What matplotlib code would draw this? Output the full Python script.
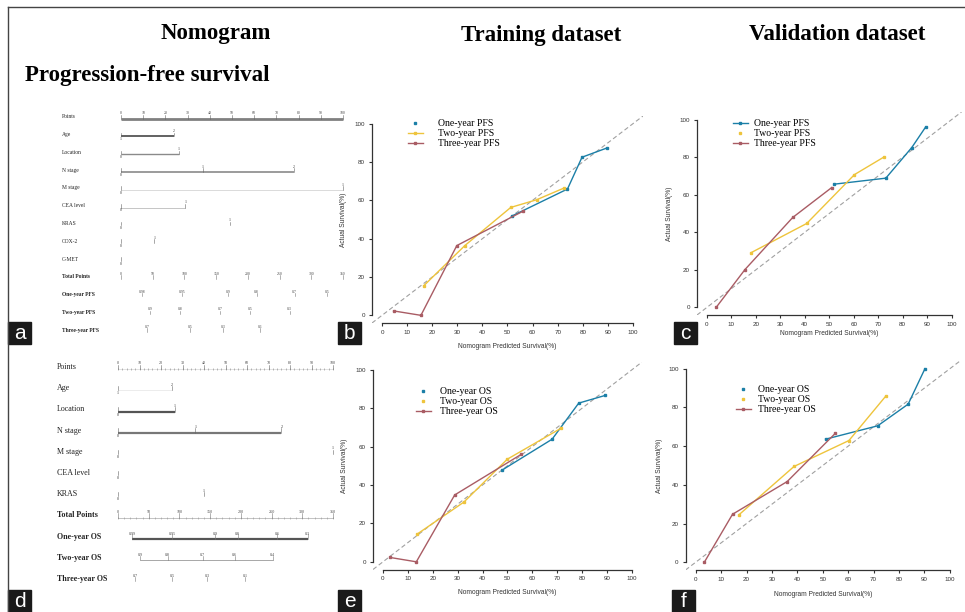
import numpy as np
import matplotlib
matplotlib.use("Agg")
from matplotlib import pyplot as plt
from matplotlib.lines import Line2D
from matplotlib.patches import Rectangle

# ---- data ----
col_titles = ["Nomogram", "Training dataset", "Validation dataset"]
row_title = "Progression-free survival"
panel_letters = ["a", "b", "c", "d", "e", "f"]

# nomogram, PFS (points scale 0-100)
pfs_vars = ["Age", "Location", "N stage", "M stage", "CEA level", "KRAS", "COX-2", "C-MET"]
pfs_var_pts = [[0, 24], [0, 26], [0, 37, 78], [0, 100], [0, 29], [0, 49], [0, 15], [0]]
pfs_var_lvls = [["1", "2"], ["0", "1"], ["0", "1", "2"], ["0", "1"], ["0", "1"],
                ["0", "1"], ["0", "1"], ["0"]]
pfs_surv_rows = ["One-year PFS", "Two-year PFS", "Three-year PFS"]
pfs_surv_tot = [[33, 96, 169, 214, 274, 325], [46, 93, 156, 203, 266], [41, 109, 161, 219]]
pfs_surv_lbl = [["0.98", "0.95", "0.9", "0.8", "0.7", "0.5"],
                ["0.9", "0.8", "0.7", "0.5", "0.3"],
                ["0.7", "0.5", "0.3", "0.1"]]

# nomogram, OS
os_vars = ["Age", "Location", "N stage", "M stage", "CEA level", "KRAS"]
os_var_pts = [[0, 25], [0, 26.5], [0, 36, 76], [0, 100], [0], [0, 40]]
os_var_lvls = [["1", "2"], ["0", "1"], ["0", "1", "2"], ["0", "1"], ["0"], ["0", "1"]]
os_surv_rows = ["One-year OS", "Two-year OS", "Three-year OS"]
os_surv_tot = [[23, 88, 158, 195, 259, 309], [36, 81, 138, 190, 252], [28, 88, 145, 207]]
os_surv_lbl = [["0.99", "0.95", "0.9", "0.8", "0.6", "0.3"],
               ["0.9", "0.8", "0.7", "0.6", "0.4"],
               ["0.7", "0.5", "0.3", "0.1"]]

points_ticks = list(range(0, 101, 10))
total_ticks = list(range(0, 351, 50))
total_max = 350

# calibration curves (predicted %, actual %)
train_pfs = {
    "One-year PFS": ([51.9, 73.9, 79.7, 89.8], [51.9, 65.9, 82.5, 87.4]),
    "Two-year PFS": ([16.6, 33.0, 51.3, 61.6, 72.5], [15.4, 36.4, 56.3, 60.3, 66.4]),
    "Three-year PFS": ([4.6, 15.5, 29.8, 56.0], [2.3, 0.0, 36.4, 54.2]),
}
valid_pfs = {
    "One-year PFS": ([52.0, 73.1, 83.7, 89.4], [65.6, 68.8, 85.1, 96.1]),
    "Two-year PFS": ([18.0, 40.8, 60.3, 72.4], [29.1, 44.7, 70.7, 80.1]),
    "Three-year PFS": ([3.8, 15.6, 35.1, 51.0], [0.0, 20.2, 47.9, 63.8]),
}
train_os = {
    "One-year OS": ([47.9, 67.9, 78.6, 89.2], [47.8, 63.8, 82.6, 86.6]),
    "Two-year OS": ([13.7, 32.5, 49.9, 71.6], [14.4, 31.1, 53.4, 69.6]),
    "Three-year OS": ([2.7, 13.4, 28.8, 55.6], [2.3, 0.0, 34.8, 56.0]),
}
valid_os = {
    "One-year OS": ([51.1, 71.6, 83.6, 90.2], [63.6, 70.5, 81.7, 100.0]),
    "Two-year OS": ([17.0, 38.7, 60.3, 74.7], [24.5, 49.5, 62.9, 85.7]),
    "Three-year OS": ([3.4, 14.5, 36.0, 55.0], [0.0, 24.8, 41.7, 66.7]),
}
cal_xticks = list(range(0, 101, 10))
cal_yticks = list(range(0, 101, 20))

# ---- styles ----
W, H = 965, 612
SERIF = ["Liberation Serif", "DejaVu Serif"]
SANS = ["Liberation Sans", "DejaVu Sans"]
c_blue, c_yel, c_red = "#1b7fa7", "#eec43c", "#a95c64"
curve_cols = [c_blue, c_yel, c_red]

fig = plt.figure(figsize=(W / 100, H / 100), dpi=100)


def box(l, t, r, b):
    return [l / W, 1 - b / H, (r - l) / W, (b - t) / H]


def fx(x):
    return x / W


def fy(y):
    return 1 - y / H


# frame (top + left edge only)
fig.add_artist(Line2D([fx(8), 1], [fy(7), fy(7)], color="#444444", lw=1))
fig.add_artist(Line2D([fx(8), fx(8)], [fy(7), 0], color="#444444", lw=1))

fig.text(fx(216), fy(33), col_titles[0], family=SERIF, weight="bold", fontsize=16.5,
         ha="center", va="center")
fig.text(fx(541), fy(35), col_titles[1], family=SERIF, weight="bold", fontsize=16.5,
         ha="center", va="center")
fig.text(fx(837), fy(35), col_titles[2], family=SERIF, weight="bold", fontsize=16.5,
         ha="center", va="center")
fig.text(fx(25), fy(75), row_title, family=SERIF, weight="bold", fontsize=16.5,
         ha="left", va="center")


def nomogram(ax, names, var_pts, var_lvls, surv_names, surv_tot, surv_lbl,
             lab_x, fs, tfs, var_styles, pts_style, tot_line, surv_styles):
    n = len(names)
    ax.set_ylim(n + 4.5, -0.5)
    ax.axis("off")
    rows = ["Points"] + names + ["Total Points"] + surv_names
    for i, r in enumerate(rows):
        bold = i > n
        ax.text(lab_x, i, r, family=SERIF, fontsize=fs, va="center", ha="left",
                weight="bold" if bold else "normal", color="#222222")
    # points axis
    lw, col, minor = pts_style
    ax.plot([0, 100], [0.1, 0.1], color=col, lw=lw, solid_capstyle="butt")
    if minor:
        ax.plot(np.arange(0, 101, 2), np.full(51, 0.1), ls="none", marker="|",
                ms=1.5, color="#888888", mew=0.4)
    for t in points_ticks:
        ax.plot([t, t], [0.1, -0.1], color="#666666", lw=0.4)
        ax.text(t, -0.08, str(t), family=SERIF, fontsize=tfs, ha="center",
                va="bottom", color="#444444")
    # variables
    for k, (p, lv) in enumerate(zip(var_pts, var_lvls)):
        y = k + 1
        lw, col = var_styles[k]
        if len(p) > 1 and lw > 0:
            ax.plot([min(p), max(p)], [y + 0.1, y + 0.1], color=col, lw=lw,
                    solid_capstyle="butt")
        for j, (pp, ll) in enumerate(zip(p, lv)):
            ax.plot([pp, pp], [y + 0.1, y - 0.1], color="#666666", lw=0.4)
            if j == 0:
                ax.text(pp, y + 0.15, ll, family=SERIF, fontsize=tfs, ha="center",
                        va="top", color="#333333")
            else:
                ax.text(pp, y - 0.08, ll, family=SERIF, fontsize=tfs, ha="center",
                        va="bottom", color="#333333")
    # total points
    y = n + 1
    tot = np.array(total_ticks) * 100.0 / total_max
    if tot_line:
        ax.plot([0, 100], [y + 0.1, y + 0.1], color="#aaaaaa", lw=0.5)
        ax.plot(np.arange(0, 101, 100.0 / 35), np.full(36, y + 0.1), ls="none",
                marker="|", ms=1.5, color="#999999", mew=0.4)
    for t, v in zip(tot, total_ticks):
        ax.plot([t, t], [y + 0.1, y - 0.1], color="#777777", lw=0.4)
        ax.text(t, y - 0.05, str(v), family=SERIF, fontsize=tfs, ha="center",
                va="bottom", color="#444444")
    # survival rows
    for k, (tv, lb) in enumerate(zip(surv_tot, surv_lbl)):
        y = n + 2 + k
        pp = np.array(tv) * 100.0 / total_max
        lw, col = surv_styles[k]
        if lw > 0:
            ax.plot([pp.min(), pp.max()], [y + 0.1, y + 0.1], color=col, lw=lw,
                    solid_capstyle="butt")
        for t, l in zip(pp, lb):
            ax.plot([t, t], [y + 0.1, y - 0.1], color="#777777", lw=0.4)
            ax.text(t, y - 0.05, l, family=SERIF, fontsize=tfs, ha="center",
                    va="bottom", color="#444444")


# panel a nomogram: 0 pts -> px 121, 100 pts -> px 343, rows 117..330
ax_a = fig.add_axes(box(50, 108, 350, 339))
ax_a.set_xlim((50 - 121) / 2.22, (350 - 121) / 2.22)
nomogram(ax_a, pfs_vars, pfs_var_pts, pfs_var_lvls, pfs_surv_rows, pfs_surv_tot,
         pfs_surv_lbl, (62 - 121) / 2.22, 4.0, 2.8,
         [(1.3, "#555555"), (1.0, "#8a8a8a"), (1.2, "#8a8a8a"), (0.5, "#cccccc"),
          (0.6, "#bbbbbb"), (0, ""), (0, ""), (0, "")],
         (2.0, "#808080", False), False, [(0, ""), (0, ""), (0, "")])

# panel d nomogram: 0 pts -> px 118, 100 pts -> px 333, rows 367..579
ax_d = fig.add_axes(box(45, 356.4, 350, 589.6))
ax_d.set_xlim((45 - 118) / 2.15, (350 - 118) / 2.15)
nomogram(ax_d, os_vars, os_var_pts, os_var_lvls, os_surv_rows, os_surv_tot,
         os_surv_lbl, (57 - 118) / 2.15, 5.8, 3.0,
         [(0.4, "#dddddd"), (1.6, "#555555"), (1.6, "#777777"), (0, ""),
          (0, ""), (0, "")],
         (0.4, "#cccccc", True), True, [(1.6, "#555555"), (0.6, "#999999"), (0, "")])


def calib(rect, curves, handle_lines, leg_xy, leg_pad, ylab_x, xlab_y):
    ax = fig.add_axes(rect)
    ax.set_xlim(-4, 104)
    ax.set_ylim(-4, 104)
    ax.plot([-4, 104], [-4, 104], color="#a0a0a0", lw=0.8, dashes=(4, 2.5), zorder=1)
    for (name, (xs, ys)), c in zip(curves.items(), curve_cols):
        ax.plot(xs, ys, color=c, lw=1.0, marker="s", ms=1.8, zorder=3)
    for s in ["top", "right"]:
        ax.spines[s].set_visible(False)
    for s in ["left", "bottom"]:
        ax.spines[s].set_bounds(0, 100)
        ax.spines[s].set_linewidth(0.9)
        ax.spines[s].set_color("#333333")
    ax.set_xticks(cal_xticks)
    ax.set_yticks(cal_yticks)
    ax.tick_params(length=2.5, width=0.8, labelsize=4.5, pad=2.5, colors="#333333")
    for lab in ax.get_xticklabels() + ax.get_yticklabels():
        lab.set_family(SANS)
    ax.set_xlabel("Nomogram Predicted Survival(%)", fontsize=4.8, family=SANS,
                  color="#333333")
    ax.set_ylabel("Actual Survival(%)", fontsize=4.8, family=SANS, color="#333333")
    ax.xaxis.set_label_coords(0.5, xlab_y)
    ax.yaxis.set_label_coords(ylab_x, 0.5)
    handles = []
    for c, with_line in zip(curve_cols, handle_lines):
        handles.append(Line2D([], [], color=c, lw=1.0, marker="s", ms=1.8,
                              ls="-" if with_line else "none"))
    ax.legend(handles, list(curves.keys()), loc="upper left",
              bbox_to_anchor=(fx(leg_xy[0]), fy(leg_xy[1])),
              bbox_transform=fig.transFigure, frameon=False, borderpad=0,
              borderaxespad=0, handlelength=1.5, handletextpad=leg_pad,
              labelspacing=0.12, prop={"family": SERIF, "size": 7})
    return ax


calib(box(372, 116, 643, 323), train_pfs, [False, True, True], (408, 119), 1.6,
      -0.092, -0.097)
calib(box(697, 112, 961.5, 315), valid_pfs, [True, False, True], (733, 119), 0.7,
      -0.091, -0.075)
calib(box(373, 362, 642, 569.5), train_os, [False, False, True], (416, 387), 1.0,
      -0.094, -0.095)
calib(box(685.5, 361, 960, 570), valid_os, [False, False, True], (736, 385), 0.8,
      -0.082, -0.10)

# panel letters in black boxes
letter_pos = [(8, 322), (338, 322), (674, 322), (8, 590), (338, 590), (672, 590)]
for (lx, ly), ch in zip(letter_pos, panel_letters):
    fig.add_artist(Rectangle((fx(lx), fy(ly + 22)), 23 / W, 22 / H, color="#1a1a1a",
                             transform=fig.transFigure))
    fig.text(fx(lx + 11.5), fy(ly + 11.5), ch, color="white", fontsize=15,
             family=SANS, ha="center", va="center")

fig.savefig("out.png", dpi=100)
